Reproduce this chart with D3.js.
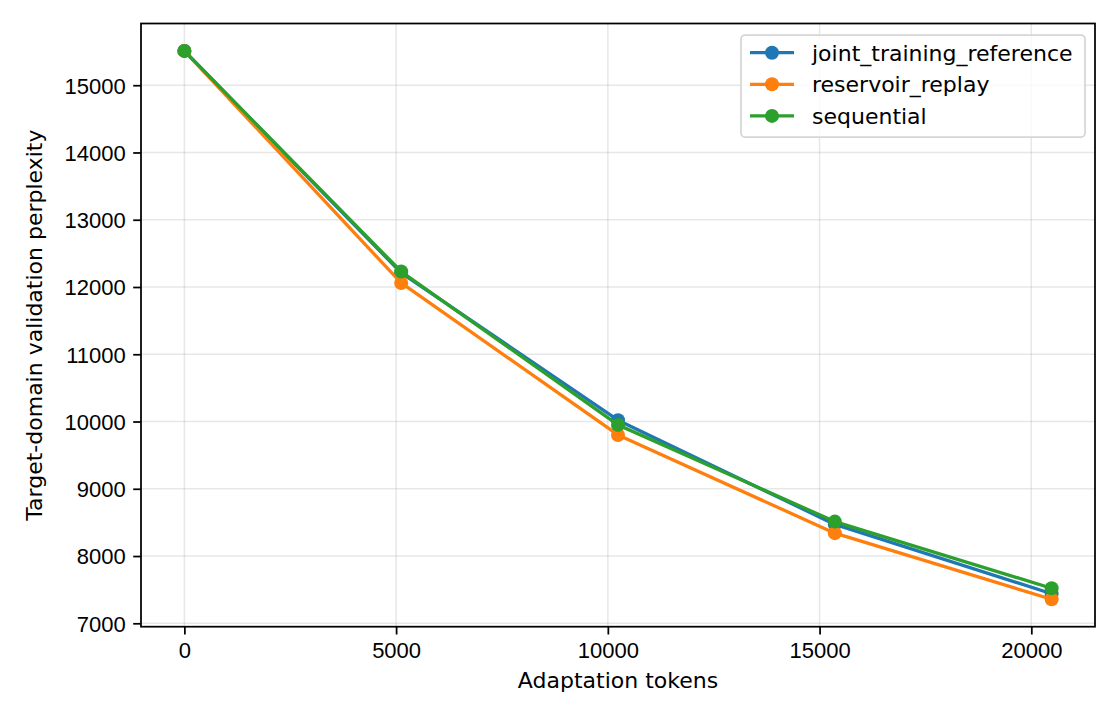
<!doctype html>
<html>
<head>
  <meta charset="utf-8">
  <title>Target-domain perplexity</title>
  <script src="https://cdnjs.cloudflare.com/ajax/libs/d3/7.8.5/d3.min.js"></script>
  <style>
    body { margin: 0; background: #fff; }
    svg { font-family: "DejaVu Sans", sans-serif; }
    .tick text { font-size: 22px; fill: #000; }
  </style>
</head>
<body>
  <div id="chart"></div>
  <script>
    // data
    const tokens = [0, 5120, 10240, 15360, 20480];
    const jointTraining = [15510, 12210, 10020, 8470, 7440];
    const reservoirReplay = [15510, 12060, 9800, 8340, 7357];
    const sequential = [15510, 12230, 9950, 8512, 7521];

    const seriesNames = ['joint_training_reference', 'reservoir_replay', 'sequential'];
    const seriesColors = ['#1f77b4', '#ff7f0e', '#2ca02c'];
    const xTicks = [0, 5000, 10000, 15000, 20000];
    const yTicks = [7000, 8000, 9000, 10000, 11000, 12000, 13000, 14000, 15000];

    const series = [jointTraining, reservoirReplay, sequential].map((vals, i) => ({
      name: seriesNames[i],
      color: seriesColors[i],
      points: vals.map((v, j) => ({ x: tokens[j], y: v }))
    }));

    const width = 1120, height = 720;
    const plotL = 141, plotR = 1095, plotT = 23.5, plotB = 626.7;
    const fontSize = '22px';

    // matplotlib style 5% margins
    const pad = (lo, hi) => [lo - (hi - lo) * 0.05, hi + (hi - lo) * 0.05];
    const allY = [].concat(jointTraining, reservoirReplay, sequential);

    const x = d3.scaleLinear().domain(pad(d3.min(tokens), d3.max(tokens))).range([plotL, plotR]);
    const y = d3.scaleLinear().domain(pad(d3.min(allY), d3.max(allY))).range([plotB, plotT]);

    const svg = d3.select('#chart').append('svg')
      .attr('width', width)
      .attr('height', height);

    // grid
    const grid = svg.append('g').attr('stroke', '#b0b0b0').attr('stroke-opacity', 0.3).attr('stroke-width', 1.5);
    grid.selectAll('line.gx').data(xTicks).join('line')
      .attr('class', 'gx')
      .attr('x1', d => x(d)).attr('x2', d => x(d))
      .attr('y1', plotT).attr('y2', plotB);
    grid.selectAll('line.gy').data(yTicks).join('line')
      .attr('class', 'gy')
      .attr('x1', plotL).attr('x2', plotR)
      .attr('y1', d => y(d)).attr('y2', d => y(d));

    // lines + markers, one series at a time so later ones sit on top
    const line = d3.line().x(d => x(d.x)).y(d => y(d.y));
    series.forEach(s => {
      const g = svg.append('g');
      g.append('path')
        .datum(s.points)
        .attr('d', line)
        .attr('fill', 'none')
        .attr('stroke', s.color)
        .attr('stroke-width', 3.3)
        .attr('stroke-linejoin', 'round')
        .attr('stroke-linecap', 'square');
      g.selectAll('circle').data(s.points).join('circle')
        .attr('cx', d => x(d.x))
        .attr('cy', d => y(d.y))
        .attr('r', 7)
        .attr('fill', s.color);
    });

    // axes
    const xAxis = svg.append('g')
      .attr('transform', `translate(0,${plotB})`)
      .call(d3.axisBottom(x).tickValues(xTicks).tickFormat(d3.format('d')).tickSize(7.8).tickPadding(7.5).tickSizeOuter(0));
    const yAxis = svg.append('g')
      .attr('transform', `translate(${plotL},0)`)
      .call(d3.axisLeft(y).tickValues(yTicks).tickFormat(d3.format('d')).tickSize(7.8).tickPadding(7.5).tickSizeOuter(0));
    [xAxis, yAxis].forEach(a => {
      a.select('.domain').remove();
      a.selectAll('.tick line').attr('stroke', '#000').attr('stroke-width', 1.75);
    });
    yAxis.selectAll('.tick text').attr('dy', '0.36em');

    // frame
    svg.append('rect')
      .attr('x', plotL).attr('y', plotT)
      .attr('width', plotR - plotL).attr('height', plotB - plotT)
      .attr('fill', 'none')
      .attr('stroke', '#000')
      .attr('stroke-width', 1.75);

    // axis labels
    svg.append('text')
      .attr('x', (plotL + plotR) / 2)
      .attr('y', 687.5)
      .attr('text-anchor', 'middle')
      .style('font-size', fontSize)
      .text('Adaptation tokens');
    svg.append('text')
      .attr('transform', `translate(42,${(plotT + plotB) / 2}) rotate(-90)`)
      .attr('text-anchor', 'middle')
      .style('font-size', fontSize)
      .text('Target-domain validation perplexity');

    // legend
    const legend = svg.append('g').attr('transform', 'translate(741,35)');
    legend.append('rect')
      .attr('width', 344).attr('height', 102)
      .attr('rx', 4).attr('ry', 4)
      .attr('fill', '#fff').attr('fill-opacity', 0.8)
      .attr('stroke', '#d6d6d6').attr('stroke-width', 1.75);
    const item = legend.selectAll('g.item').data(series).join('g')
      .attr('class', 'item')
      .attr('transform', (d, i) => `translate(0,${17.7 + i * 31.6})`);
    item.append('line')
      .attr('x1', 9).attr('x2', 53)
      .attr('stroke', d => d.color)
      .attr('stroke-width', 3.3);
    item.append('circle')
      .attr('cx', 31).attr('r', 7)
      .attr('fill', d => d.color);
    item.append('text')
      .attr('x', 71)
      .attr('dy', '0.36em')
      .style('font-size', fontSize)
      .text(d => d.name);
  </script>
</body>
</html>
